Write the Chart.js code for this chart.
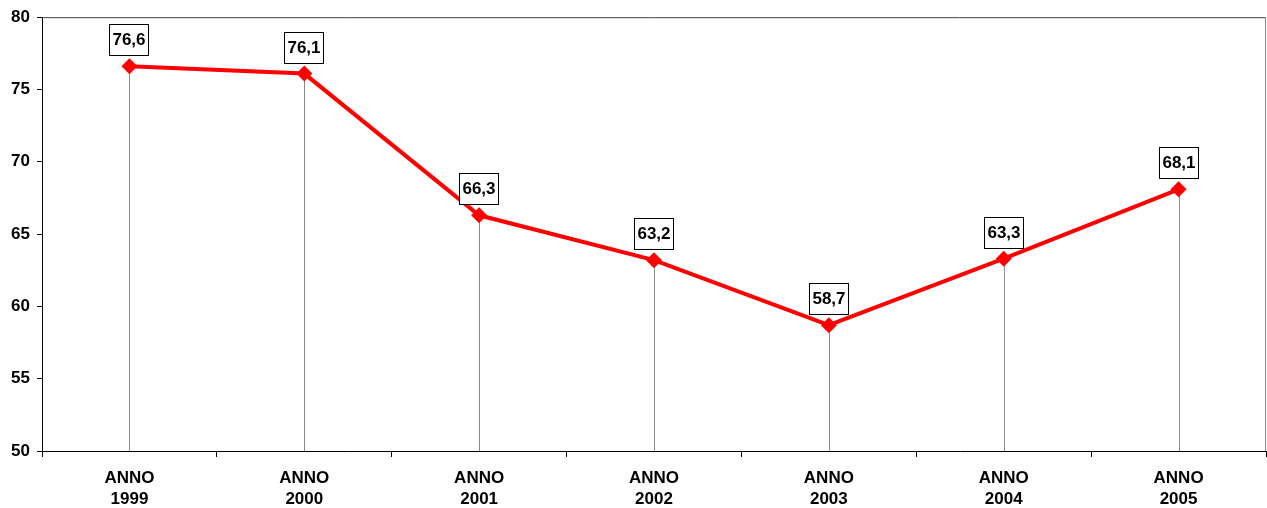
<!DOCTYPE html>
<html>
<head>
<meta charset="utf-8">
<script src="https://cdn.jsdelivr.net/npm/chart.js@4"></script>
<style>
  html, body { margin: 0; padding: 0; background: #fff; }
  #wrap { width: 1267px; height: 508px; }
</style>
</head>
<body>
<div id="wrap"><canvas id="lineChart" width="1267" height="508"></canvas></div>
<script>
// chart data
var years = ["1999", "2000", "2001", "2002", "2003", "2004", "2005"];
var values = [76.6, 76.1, 66.3, 63.2, 58.7, 63.3, 68.1];
var yTicks = [50, 55, 60, 65, 70, 75, 80];

var labels = years.map(function (y) { return ["ANNO", y]; });
var fontFamily = '"Liberation Sans", Arial, sans-serif';

// drop lines, value boxes and the frame on top / right
var extras = {
    id: 'extras',
    beforeDatasetsDraw: function (chart) {
        var ctx = chart.ctx;
        var area = chart.chartArea;
        var yScale = chart.scales.y;
        var meta = chart.getDatasetMeta(0);
        ctx.save();
        ctx.strokeStyle = '#8c8c8c';
        ctx.lineWidth = 1;
        meta.data.forEach(function (pt) {
            var x = Math.round(pt.x) + 0.5;
            ctx.beginPath();
            ctx.moveTo(x, pt.y);
            ctx.lineTo(x, yScale.bottom);
            ctx.stroke();
        });
        // frame
        ctx.strokeStyle = '#404040';
        ctx.beginPath();
        ctx.moveTo(area.left, area.top + 0.5);
        ctx.lineTo(area.right - 0.5, area.top + 0.5);
        ctx.stroke();
        ctx.strokeStyle = '#8c8c8c';
        ctx.beginPath();
        ctx.moveTo(area.right - 0.5, area.top);
        ctx.lineTo(area.right - 0.5, area.bottom);
        ctx.stroke();
        ctx.restore();
    },
    afterDatasetsDraw: function (chart) {
        var ctx = chart.ctx;
        var meta = chart.getDatasetMeta(0);
        ctx.save();
        ctx.font = 'bold 17px ' + fontFamily;
        ctx.textAlign = 'center';
        ctx.textBaseline = 'middle';
        meta.data.forEach(function (pt, i) {
            var txt = values[i].toFixed(1).replace('.', ',');
            var w = Math.round(ctx.measureText(txt).width) + 6;
            var h = 31;
            var cx = Math.round(pt.x);
            var cy = Math.round(pt.y) - 27;
            var bx = cx - Math.round(w / 2) + 0.5;
            var by = Math.round(cy - h / 2) + 0.5;
            ctx.fillStyle = '#ffffff';
            ctx.fillRect(bx, by, w, h);
            ctx.strokeStyle = '#000000';
            ctx.lineWidth = 1;
            ctx.strokeRect(bx, by, w, h);
            ctx.fillStyle = '#000000';
            ctx.fillText(txt, cx, cy + 1);
        });
        ctx.restore();
    }
};

document.addEventListener("DOMContentLoaded", function () {
    var myContext = document.getElementById("lineChart").getContext('2d');

    var myChart = new Chart(myContext, {
        type: 'line',
        data: {
            labels: labels,
            datasets: [{
                label: 'Valore',
                data: values,
                borderColor: '#ff0000',
                backgroundColor: '#ff0000',
                borderWidth: 4,
                pointStyle: 'rectRot',
                pointRadius: 8,
                pointHoverRadius: 8,
                pointBorderWidth: 0,
                tension: 0
            }]
        },
        options: {
            responsive: false,
            animation: false,
            layout: { autoPadding: false, padding: { top: 17, right: 1, left: 0, bottom: 0 } },
            plugins: {
                legend: { display: false },
                tooltip: { enabled: false },
                title: { display: false }
            },
            scales: {
                x: {
                    offset: true,
                    grid: {
                        offset: true,
                        drawOnChartArea: false,
                        color: '#000000',
                        tickLength: 6
                    },
                    border: { color: '#000000', width: 1 },
                    ticks: {
                        color: '#000000',
                        maxRotation: 0,
                        autoSkip: false,
                        padding: 11,
                        font: { family: fontFamily, size: 17, weight: 'bold', lineHeight: 1.22 }
                    },
                    afterFit: function (scale) {
                        scale.height = 57;
                        scale.paddingLeft = 0;
                        scale.paddingRight = 0;
                    }
                },
                y: {
                    min: 50,
                    max: 80,
                    afterBuildTicks: function (scale) {
                        scale.ticks = yTicks.map(function (v) { return { value: v }; });
                    },
                    grid: {
                        drawOnChartArea: false,
                        color: '#000000',
                        tickLength: 5
                    },
                    border: { color: '#000000', width: 1 },
                    ticks: {
                        color: '#000000',
                        padding: 7,
                        font: { family: fontFamily, size: 17, weight: 'bold' }
                    },
                    afterFit: function (scale) { scale.width = 42; }
                }
            }
        },
        plugins: [extras]
    });
});
</script>
</body>
</html>
